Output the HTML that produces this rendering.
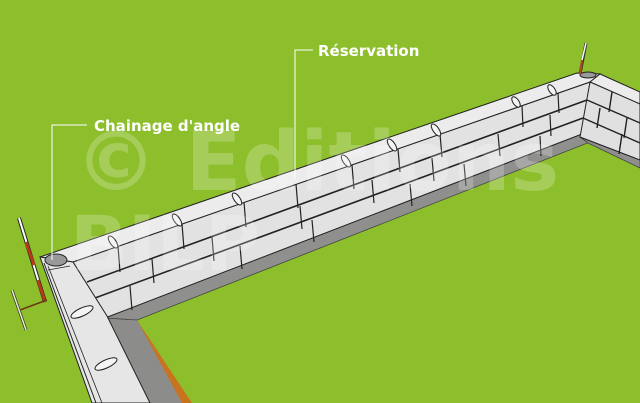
<!DOCTYPE html>
<html><head><meta charset="utf-8"><style>
html,body{margin:0;padding:0;background:#8dbf2c;}
svg{display:block}
text{font-family:"DejaVu Sans","Liberation Sans",sans-serif;font-weight:bold}
</style></head><body>
<svg width="640" height="403" viewBox="0 0 640 403" xmlns="http://www.w3.org/2000/svg">
<rect width="640" height="403" fill="#8dbf2c"/>
<!-- orange + gravel on left foundation -->
<polygon points="137,320 192,403 180,403 128,322" fill="#c8741e"/>
<polygon points="105,318 137,320 182,403 148,403" fill="#8c8c8a"/>
<!-- gravel strip along back wall -->
<polygon points="105,318 582,134 590,142 137,320" fill="#8f8f8d" stroke="#444" stroke-width="0.8"/>
<polygon points="580,137 640,160 640,168 588,143" fill="#8f8f8d" stroke="#444" stroke-width="0.8"/>
<!-- back wall front face -->
<polygon points="73,262 590,82 582,134 105,318" fill="#e2e2e2" stroke="#222" stroke-width="1"/>
<g stroke="#222" stroke-width="1.6" fill="none">
<line x1="87" y1="282" x2="587" y2="100"/>
<line x1="95" y1="298" x2="583" y2="118"/>
</g>
<g stroke="#222" stroke-width="1.2">
<line x1="118" y1="246" x2="120" y2="272"/><line x1="182" y1="224" x2="184" y2="249"/><line x1="244" y1="202" x2="246" y2="227"/><line x1="296" y1="184" x2="298" y2="208"/><line x1="352" y1="165" x2="354" y2="189"/><line x1="398" y1="149" x2="400" y2="172"/><line x1="440" y1="134" x2="442" y2="157"/><line x1="522" y1="106" x2="523" y2="127"/><line x1="558" y1="93" x2="559" y2="113"/>
<line x1="152" y1="259" x2="154" y2="283"/><line x1="212" y1="237" x2="214" y2="261"/><line x1="300" y1="206" x2="302" y2="229"/><line x1="372" y1="180" x2="374" y2="203"/><line x1="432" y1="158" x2="434" y2="181"/><line x1="498" y1="134" x2="500" y2="156"/><line x1="550" y1="115" x2="551" y2="136"/>
<line x1="130" y1="286" x2="132" y2="310"/><line x1="240" y1="246" x2="242" y2="269"/><line x1="312" y1="220" x2="314" y2="242"/><line x1="410" y1="184" x2="412" y2="206"/><line x1="464" y1="164" x2="466" y2="186"/><line x1="540" y1="136" x2="541" y2="156"/>
</g>
<!-- back wall top -->
<polygon points="40,257 577,73 600,74 590,82 73,262" fill="#ececec" stroke="#222" stroke-width="1"/>
<!-- right wall -->
<polygon points="600,74 640,92 640,104 590,82" fill="#ececec" stroke="#222" stroke-width="1"/>
<polygon points="590,82 640,104 640,160 580,137" fill="#e0e0e0" stroke="#222" stroke-width="1"/>
<g stroke="#222" stroke-width="1.4"><line x1="587" y1="100" x2="640" y2="123"/><line x1="583" y1="118" x2="640" y2="143"/><line x1="612" y1="92" x2="609" y2="112"/><line x1="600" y1="108" x2="597" y2="128"/><line x1="627" y1="118" x2="624" y2="138"/><line x1="622" y1="134" x2="619" y2="154"/></g>
<!-- left wall top face -->
<polygon points="40,257 73,262 107,316 150,403 92,403" fill="#e6e6e6" stroke="#222" stroke-width="1"/>
<line x1="44" y1="263" x2="96" y2="403" stroke="#222" stroke-width="1"/>
<line x1="48" y1="266" x2="102" y2="403" stroke="#222" stroke-width="0.8"/>
<line x1="48" y1="270" x2="70" y2="266" stroke="#222" stroke-width="0.8"/>
<ellipse cx="82" cy="312" rx="12" ry="4" transform="rotate(-25 82 312)" fill="#f4f4f4" stroke="#222"/>
<ellipse cx="106" cy="364" rx="12" ry="4" transform="rotate(-25 106 364)" fill="#f4f4f4" stroke="#222"/>
<!-- slots -->
<g fill="#f4f4f4" stroke="#222" stroke-width="1">
<ellipse cx="113" cy="242" rx="3" ry="7" transform="rotate(-35 113 242)"/>
<ellipse cx="177" cy="220" rx="3" ry="7" transform="rotate(-35 177 220)"/>
<ellipse cx="237" cy="199" rx="3" ry="7" transform="rotate(-35 237 199)"/>
<ellipse cx="346" cy="161" rx="3" ry="7" transform="rotate(-35 346 161)"/>
<ellipse cx="392" cy="145" rx="3" ry="7" transform="rotate(-35 392 145)"/>
<ellipse cx="436" cy="130" rx="3" ry="7" transform="rotate(-35 436 130)"/>
<ellipse cx="516" cy="102" rx="3" ry="6" transform="rotate(-35 516 102)"/>
<ellipse cx="552" cy="90" rx="3" ry="6" transform="rotate(-35 552 90)"/>
</g>
<ellipse cx="56" cy="260" rx="11" ry="6" fill="#999" stroke="#222"/>
<ellipse cx="588" cy="75" rx="8" ry="3" fill="#999" stroke="#222"/>
<!-- posts -->
<line x1="19" y1="218" x2="45" y2="302" stroke="#222" stroke-width="4"/>
<line x1="19" y1="218" x2="45" y2="302" stroke="#fff" stroke-width="2"/>
<line x1="26" y1="242" x2="34" y2="265" stroke="#b83a1a" stroke-width="3"/>
<line x1="38" y1="280" x2="45" y2="302" stroke="#b83a1a" stroke-width="3"/>
<line x1="12" y1="290" x2="26" y2="330" stroke="#333" stroke-width="3"/>
<line x1="12" y1="290" x2="26" y2="330" stroke="#e8f0c0" stroke-width="1.5"/>
<line x1="20" y1="310" x2="47" y2="300" stroke="#6b3a10" stroke-width="1.5"/>
<line x1="586" y1="43" x2="580" y2="74" stroke="#333" stroke-width="3"/>
<line x1="586" y1="43" x2="582" y2="60" stroke="#fff" stroke-width="1.5"/>
<line x1="582" y1="60" x2="580" y2="74" stroke="#b84a1a" stroke-width="2"/>
<!-- watermark -->
<text x="75" y="190" font-size="82" fill="#ffffff" fill-opacity="0.22">© Editions</text>
<text x="70" y="270" font-size="76" fill="#ffffff" fill-opacity="0.22">BILP</text>
<!-- labels -->
<polyline points="87,125 52,125 52,260" fill="none" stroke="#fff" stroke-width="1"/>
<polyline points="313,50 295,50 295,180" fill="none" stroke="#fff" stroke-width="1"/>
<text x="94" y="131" font-size="15" fill="#fff">Chainage d'angle</text>
<text x="318" y="56" font-size="15" fill="#fff">Réservation</text>
</svg>
</body></html>
